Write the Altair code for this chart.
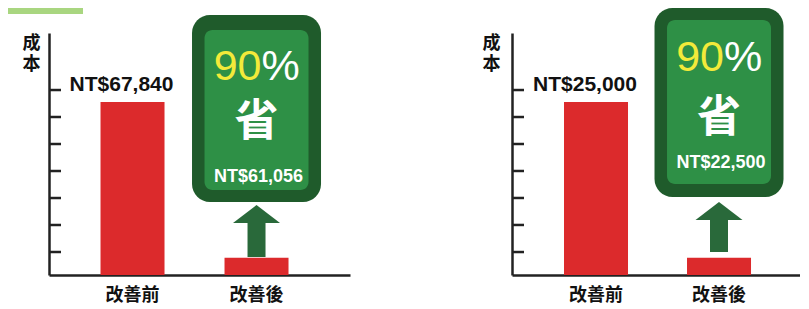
import altair as alt
import pandas as pd

# ---- data ----
cats = ["改善前", "改善後"]
left_costs = [67840, 6784]
right_costs = [25000, 2500]
left_ticks = [9020, 19610, 30190, 40780, 51370, 61960, 72540]
right_ticks = [3320, 7230, 11130, 15030, 18930, 22830, 26730]
left_ymax = 94900
right_ymax = 34970
y_title = ["成", "本"]
sheng_text = "省"

# ---- styles ----
RED = "#dc2a2c"
DARK = "#1f5b2b"
MID = "#2e9046"
ARROW = "#29693a"
YELLOW = "#f3ea3a"
LIGHT = "#a9d680"
AXIS = "#222222"
LATIN = "Liberation Sans"
CJK = "Noto Sans CJK TC"
H = 242

LEFT_G = dict(o0=-18, o1=169, i0=-3, i1=157, pct=47, sheng=103, nt=149, tip=172, base=190, bottom=224)
RIGHT_G = dict(o0=-25, o1=164, i0=-13, i1=151, pct=38, sheng=99, nt=135, tip=169, base=187, bottom=219)

HEAD = "M0,-0.383L1,0.383L-1,0.383Z"


def panel(costs, ticks, ymax, width, pad_outer, align, title_x, g, header=False):
    before, after = costs
    saving = before - after
    pct = round(100 * saving / before)
    bars = pd.DataFrame({"cat": cats, "value": costs})
    tick_df = pd.DataFrame({"value": ticks})
    ann = pd.DataFrame({"cat": [cats[1]], "pct": [str(pct)], "sym": ["%"],
                        "sheng": [sheng_text], "saving": [saving]})

    x = alt.X("cat:N", sort=cats,
              scale=alt.Scale(domain=cats, paddingInner=0, paddingOuter=pad_outer, align=align),
              axis=alt.Axis(title=None, ticks=False, labelAngle=0, labelFont=CJK, labelFontSize=18,
                            labelFontWeight="bold", labelColor="#111111", labelPadding=11,
                            domainColor=AXIS, domainWidth=2.5))
    yaxis = alt.Axis(title=y_title, titleAngle=0, titleX=title_x, titleY=1, titleAlign="center",
                     titleBaseline="top", titleFont=CJK, titleFontSize=18, titleFontWeight="bold",
                     titleLineHeight=21, titleColor="#111111", labels=False, ticks=False, grid=False,
                     domainColor=AXIS, domainWidth=2.5)
    y = alt.Y("value:Q", scale=alt.Scale(domain=[0, ymax], nice=False, zero=True), axis=yaxis)

    layers = []
    layers.append(alt.Chart(bars).mark_bar(width=64, color=RED).encode(x=x, y=y))
    layers.append(
        alt.Chart(bars.iloc[[0]])
        .transform_calculate(lab="'NT' + format(datum.value, '$,')")
        .mark_text(font=LATIN, fontSize=21, fontWeight="bold", dx=-11, dy=-11,
                   baseline="alphabetic", color="#111111")
        .encode(x=x, y=y, text="lab:N")
    )
    layers.append(
        alt.Chart(tick_df).mark_rule(color=AXIS, strokeWidth=2.5)
        .encode(y=y, x=alt.value(0), x2=alt.value(12))
    )
    base = alt.Chart(ann)
    layers.append(base.mark_bar(width=129, cornerRadius=18, color=DARK)
                  .encode(x=x, y=alt.value(g["o0"]), y2=alt.value(g["o1"])))
    layers.append(base.mark_bar(width=104, cornerRadius=8, color=MID)
                  .encode(x=x, y=alt.value(g["i0"]), y2=alt.value(g["i1"])))
    layers.append(base.mark_text(font=LATIN, fontSize=43, align="right", dx=5, baseline="alphabetic",
                                 color=YELLOW)
                  .encode(x=x, y=alt.value(g["pct"]), text="pct:N"))
    layers.append(base.mark_text(font=LATIN, fontSize=43, align="left", dx=5, baseline="alphabetic",
                                 color="white")
                  .encode(x=x, y=alt.value(g["pct"]), text="sym:N"))
    layers.append(base.mark_text(font=CJK, fontSize=44, fontWeight="bold", align="center",
                                 baseline="alphabetic", color="white")
                  .encode(x=x, y=alt.value(g["sheng"]), text="sheng:N"))
    layers.append(base.transform_calculate(lab="'NT' + format(datum.saving, '$,')")
                  .mark_text(font=LATIN, fontSize=18, fontWeight="bold", align="center", dx=2,
                             baseline="alphabetic", color="white")
                  .encode(x=x, y=alt.value(g["nt"]), text="lab:N"))
    layers.append(base.mark_bar(width=18, color=ARROW)
                  .encode(x=x, y=alt.value(g["base"]), y2=alt.value(g["bottom"])))
    layers.append(base.mark_point(shape=HEAD, size=2209, filled=True, opacity=1, color=ARROW, strokeWidth=0)
                  .encode(x=x, y=alt.value((g["tip"] + g["base"]) / 2)))
    if header:
        layers.append(base.mark_rect(color=LIGHT)
                      .encode(x=alt.value(-41), x2=alt.value(34), y=alt.value(-25), y2=alt.value(-19)))
    return alt.layer(*layers).properties(width=width, height=H)


left = panel(left_costs, left_ticks, left_ymax, 301, 0.2137, 0.406, -18, LEFT_G, header=True)
right = panel(right_costs, right_ticks, right_ymax, 288, 0.1707, 0.536, -21, RIGHT_G)

chart = (
    alt.hconcat(left, right, spacing=132)
    .properties(padding=0, background="white")
    .configure_view(stroke=None)
)

chart.save("out.html", embed_options={"renderer": "svg", "actions": False})
